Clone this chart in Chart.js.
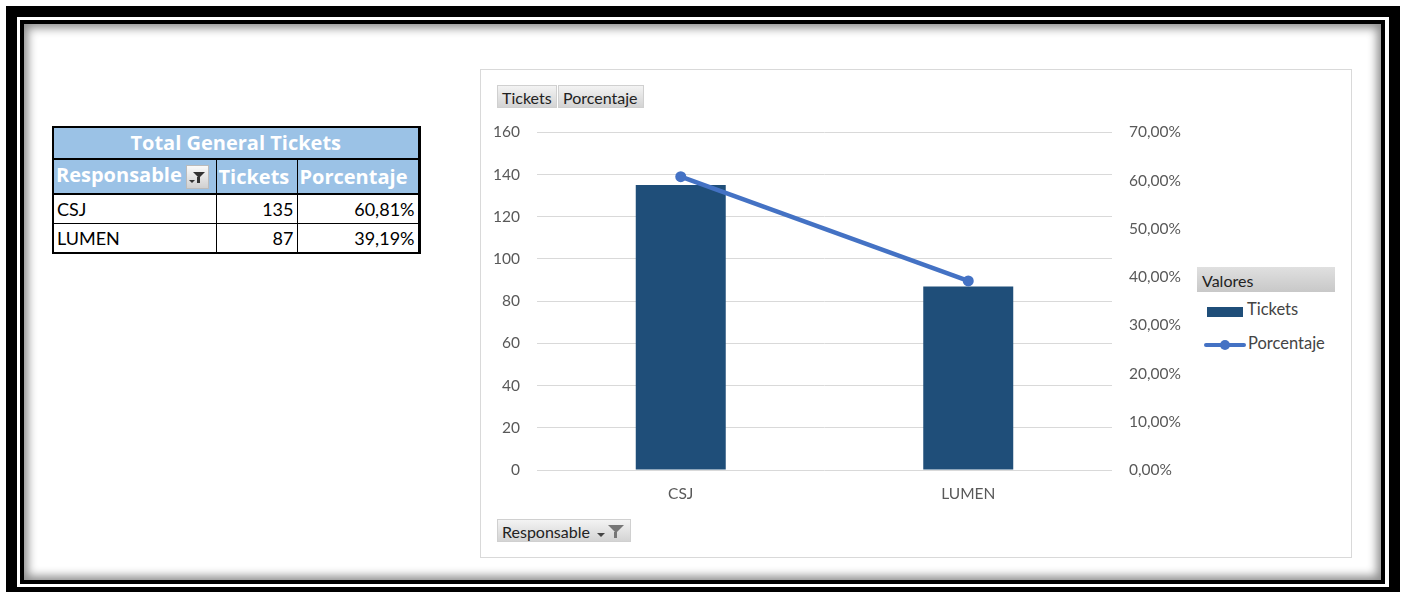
<!DOCTYPE html>
<html>
<head>
<meta charset="utf-8">
<script src="https://cdn.jsdelivr.net/npm/chart.js@4"></script>
<style>
  body { margin: 0; width: 1407px; height: 592px; background: #fff; position: relative; overflow: hidden; font-family: Lato, "Open Sans", sans-serif; }
  .frame-out { position: absolute; left: 6px; top: 6px; width: 1372px; height: 570px; border: 11px solid #000; }
  .frame-in { position: absolute; left: 20px; top: 20px; width: 1357px; height: 556px; border: 4px solid #000;
    box-shadow: inset 0 0 10px 4px rgba(0,0,0,0.45); }
  table.pivot { position: absolute; left: 52px; top: 126px; width: 366px; table-layout: fixed; border-collapse: collapse; font-size: 18px; color: #000;
    border: 2px solid #000; border-right: 3px solid #000; }
  table.pivot td { border: 1px solid #000; padding: 0 3px; height: 28px; white-space: nowrap; overflow: hidden; line-height: 20px; }
  table.pivot .title td { background: #9bc2e6; color: #fff; font-family: "Open Sans", sans-serif; font-weight: bold; font-size: 20px; text-align: center; height: 30px; border-bottom: 2px solid #000; }
  table.pivot .head td { background: #9bc2e6; color: #fff; font-family: "Open Sans", sans-serif; font-weight: bold; font-size: 20px; height: 33px; border-bottom: 2px solid #000; padding: 0 2px; }
  .num { text-align: right; }
  .filt { display: inline-block; width: 21px; height: 22px; background: linear-gradient(#fafafa, #d0d0d0); border: 1px solid #bbb; vertical-align: middle; position: relative; margin-left: 4px; }
  .funnel { position: absolute; border-left: 6px solid transparent; border-right: 6px solid transparent; border-top: 6px solid #333; }
  .stem { position: absolute; width: 3px; background: #333; }
  .box { position: absolute; left: 480px; top: 69px; width: 870px; height: 487px; border: 1px solid #d9d9d9; }
  .btn { position: absolute; height: 23px; line-height: 23px; font-size: 16px; color: #222; padding: 0 4px; box-sizing: border-box;
    background: linear-gradient(#f3f3f3, #d4d4d4); border: 1px solid #d0d0d0; }
  #chart { position: absolute; left: 490px; top: 106px; }
  .leg-head { position: absolute; left: 1197px; top: 267px; width: 138px; height: 25px; line-height: 27px; font-size: 16px; color: #222; padding-left: 5px; box-sizing: border-box;
    background: linear-gradient(#e0e0e0, #c8c8c8); }
  .leg { position: absolute; font-size: 16.5px; color: #444; }
</style>
</head>
<body>
<div class="frame-out"></div>
<div class="frame-in"></div>

<table class="pivot" id="pivot">
  <colgroup><col style="width:163px"><col style="width:81px"><col style="width:122px"></colgroup>
</table>

<div class="box"></div>
<div class="btn" style="left:497px; top:85px; width:60px;">Tickets</div>
<div class="btn" style="left:558px; top:85px; width:86px;">Porcentaje</div>
<div class="btn" style="left:497px; top:519px; width:134px;">Responsable
  <span style="position:absolute; left:99px; top:13px; border-left:4px solid transparent; border-right:4px solid transparent; border-top:4px solid #444;"></span>
  <span class="funnel" style="left:110px; top:5px; border-left-width:8px; border-right-width:8px; border-top:8px solid #777;"></span>
  <span class="stem" style="left:116px; top:12px; height:6px; background:#777;"></span>
</div>

<canvas id="chart" width="700" height="400"></canvas>

<div class="leg-head">Valores</div>
<div style="position:absolute; left:1207px; top:307px; width:36px; height:10px; background:#1f4e79;"></div>
<div class="leg" style="left:1247px; top:299px;">Tickets</div>
<div style="position:absolute; left:1204px; top:343px; width:42px; height:4px; background:#4472c4; border-radius:2px;"></div>
<div style="position:absolute; left:1220px; top:340px; width:10px; height:10px; background:#4472c4; border-radius:50%;"></div>
<div class="leg" style="left:1248px; top:333px;">Porcentaje</div>

<script>
// datos
const categorias = ['CSJ', 'LUMEN'];
const tickets = [135, 87];
const porcentaje = [60.81, 39.19];
const ticksTickets = [0, 20, 40, 60, 80, 100, 120, 140, 160];
const ticksPorcentaje = [0, 10, 20, 30, 40, 50, 60, 70];

const fmtPct = v => v.toFixed(2).replace('.', ',') + '%';

// tabla dinamica
let html = '<tr class="title"><td colspan="3">Total General Tickets</td></tr>';
html += '<tr class="head"><td>Responsable<span class="filt">'
      + '<span class="funnel" style="left:6px; top:6px;"></span><span class="stem" style="left:10px; top:11px; height:6px;"></span>'
      + '<span style="position:absolute; left:2px; top:14px; border-left:3px solid transparent; border-right:3px solid transparent; border-top:3px solid #333;"></span>'
      + '</span></td><td>Tickets</td><td>Porcentaje</td></tr>';
categorias.forEach((c, i) => {
    html += `<tr><td>${c}</td><td class="num">${tickets[i]}</td><td class="num">${fmtPct(porcentaje[i])}</td></tr>`;
});
document.getElementById('pivot').insertAdjacentHTML('beforeend', html);

// grafico
const tickFont = { family: 'Lato', size: 15.5 };
const ctx = document.getElementById('chart').getContext('2d');
new Chart(ctx, {
    data: {
        labels: categorias,
        datasets: [
            {
                type: 'line', label: 'Porcentaje', data: porcentaje, yAxisID: 'y1', order: 0,
                borderColor: '#4472c4', backgroundColor: '#4472c4', borderWidth: 4.5,
                pointRadius: 5.5, pointBackgroundColor: '#4472c4', pointBorderWidth: 0
            },
            {
                type: 'bar', label: 'Tickets', data: tickets, yAxisID: 'y', order: 1,
                backgroundColor: '#1f4e79', barPercentage: 0.313, categoryPercentage: 1
            }
        ]
    },
    options: {
        responsive: false,
        animation: false,
        layout: { padding: { top: 17, left: 0, right: 0, bottom: 0 } },
        plugins: { legend: { display: false }, tooltip: { enabled: false } },
        scales: {
            x: {
                grid: { display: false, drawTicks: false },
                border: { display: false },
                ticks: { color: '#595959', font: tickFont, padding: 15 },
                afterFit: s => { s.height = 36; }
            },
            y: {
                position: 'left', min: 0, max: 160,
                afterBuildTicks: s => { s.ticks = ticksTickets.map(v => ({ value: v })); },
                grid: { color: '#d9d9d9', drawTicks: false },
                border: { display: false },
                ticks: { color: '#595959', font: tickFont, padding: 17 },
                afterFit: s => { s.width = 47; }
            },
            y1: {
                position: 'right', min: 0, max: 70,
                afterBuildTicks: s => { s.ticks = ticksPorcentaje.map(v => ({ value: v })); },
                grid: { display: false, drawTicks: false },
                border: { display: false },
                ticks: { color: '#595959', font: tickFont, padding: 17, callback: v => fmtPct(v) },
                afterFit: s => { s.width = 78; }
            }
        }
    }
});
</script>
</body>
</html>
